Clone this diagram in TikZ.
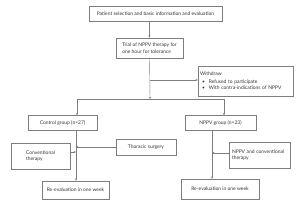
\documentclass[tikz,border=0pt]{standalone}
\usepackage{fontspec}
\setmainfont{Lato}
\usetikzlibrary{arrows.meta}
\definecolor{linegray}{RGB}{125,125,125}
\definecolor{textgray}{RGB}{50,50,50}

\begin{document}
\begin{tikzpicture}[x=1pt, y=-1pt, >={Stealth[length=2.4pt, width=2pt]},
    box/.style={draw=linegray, line width=0.4pt, inner sep=0pt, text=textgray,
      font=\fontsize{4.95}{6.4}\selectfont},
    flow/.style={draw=linegray, line width=0.4pt}]
    \useasboundingbox (0,0) rectangle (300,206);
    \node[box, minimum width=133, minimum height=15] (sel) at (155.5, 13.5) {Patient selection and basic information and evaluation};
    \node[box, minimum width=67, minimum height=20, align=left] (trial) at (149.5, 48) {Trial of NPPV therapy for\\one hour for tolerance};
    \node[box, minimum width=95, minimum height=30, text width=91, inner xsep=2, align=left] (withdraw) at (245.5, 81)
      {Withdraw\\[1pt]\hspace*{2pt}\textbullet\hspace{4pt}Refused to participate\\\hspace*{2pt}\textbullet\hspace{4pt}With contra-indications of NPPV};
    \node[box, minimum width=69, minimum height=15] (ctrl) at (62.5, 123) {Control group (n=27)};
    \node[box, minimum width=71, minimum height=15] (nppv) at (220.5, 123) {NPPV group (n=23)};
    \node[box, minimum width=59, minimum height=26, align=left] (conv) at (40.5, 156) {Conventional\\therapy};
    \node[box, minimum width=60, minimum height=16] (thor) at (146, 147) {Thoracic surgery};
    \node[box, minimum width=61, minimum height=26, text width=55, inner xsep=3, align=left] (nc) at (259.5, 155) {NPPV and conventional\\therapy};
    \node[box, minimum width=67, minimum height=18] (re1) at (75.5, 190) {Re-evaluation in one week};
    \node[box, minimum width=78, minimum height=20] (re2) at (220, 189) {Re-evaluation in one week};

    \coordinate (split) at (150, 99);
    \coordinate (wd) at (150, 80);
    \coordinate (lcol) at (77, 99);
    \coordinate (rcol) at (224, 99);
    \draw[flow, ->] (sel.south -| trial.north) -- (trial.north);
    \draw[flow, ->] (trial.south) -- (split);
    \draw[flow, ->] (wd) -- (wd -| withdraw.west);
    \draw[flow] (lcol) -- (rcol);
    \draw[flow, ->] (lcol) -- (lcol |- ctrl.north);
    \draw[flow, ->] (rcol) -- (rcol |- nppv.north);
    \draw[flow, ->] (ctrl.south -| 76,0) -- (re1.north -| 76,0);
    \draw[flow, ->] (conv.east |- 0,152) -- (76, 152);
    \draw[flow, ->] (thor.west) -- (76, 147);
    \draw[flow, ->] (nppv.south -| 212,0) -- (re2.north -| 212,0);
    \draw[flow, ->] (nc.west |- 0,153) -- (212, 153);
\end{tikzpicture}
\end{document}
